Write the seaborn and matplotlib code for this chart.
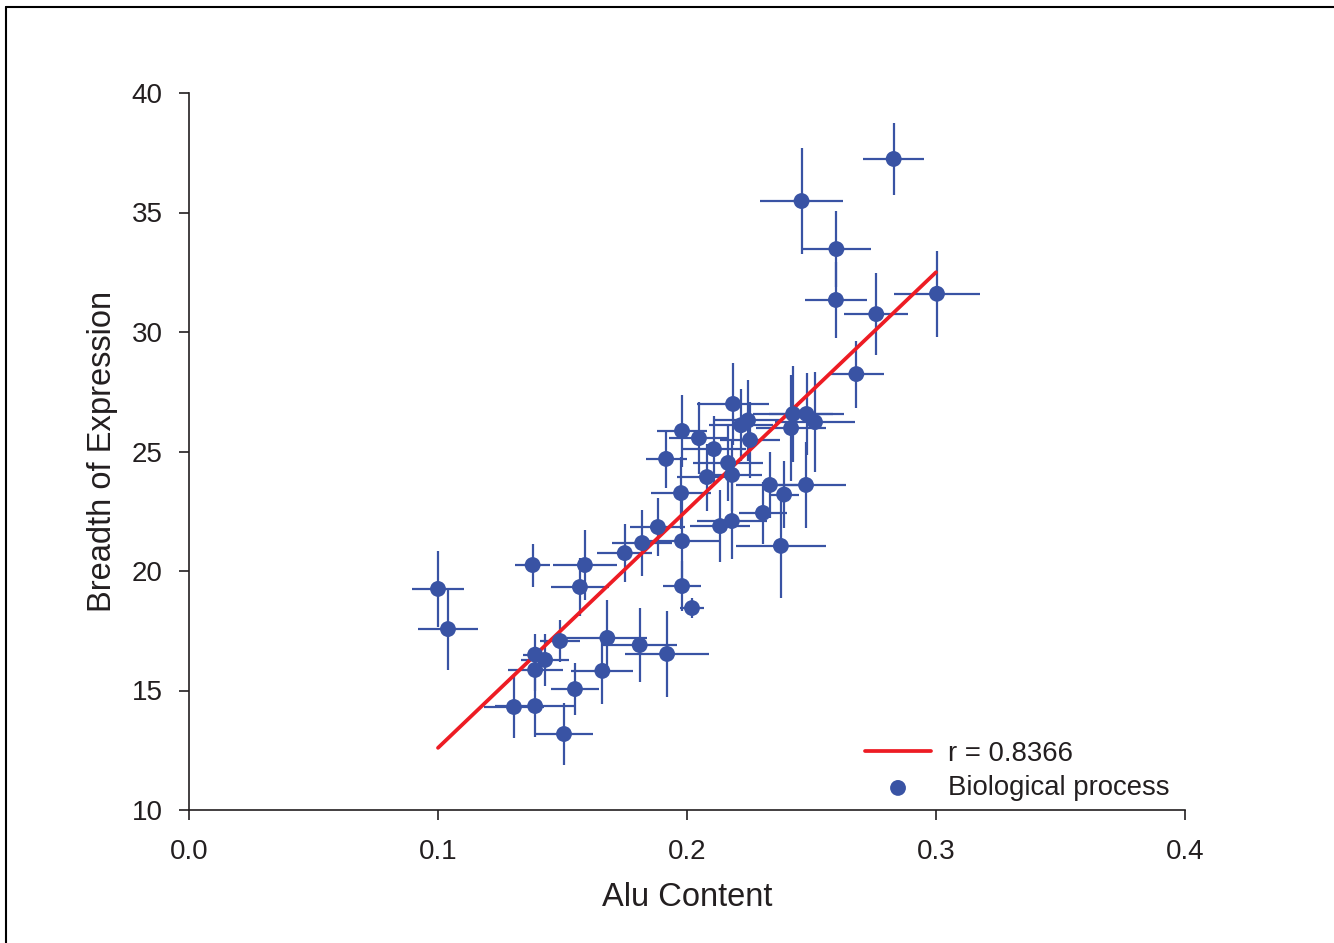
import matplotlib
matplotlib.use("Agg")
import matplotlib.pyplot as plt
from matplotlib.lines import Line2D
import numpy as np
import pandas as pd
import seaborn as sns

# Alu content vs breadth of expression, one point per GO biological process
alu_content = [
    0.100, 0.104, 0.138, 0.159, 0.157, 0.175, 0.182, 0.198, 0.198, 0.202,
    0.139, 0.143, 0.149, 0.139, 0.168, 0.181, 0.192, 0.166, 0.155, 0.1305,
    0.139, 0.1506, 0.283, 0.246, 0.260, 0.2598, 0.276, 0.3004, 0.268, 0.2185,
    0.2245, 0.2217, 0.2426, 0.248, 0.2514, 0.2418, 0.198, 0.2048, 0.2253, 0.2108,
    0.1916, 0.2165, 0.2181, 0.208, 0.2333, 0.2478, 0.239, 0.1976, 0.2305, 0.218,
    0.2133, 0.1883, 0.2377,
]
breadth = [
    19.25, 17.57, 20.25, 20.25, 19.33, 20.75, 21.17, 21.25, 19.37, 18.45,
    16.50, 16.28, 17.07, 15.86, 17.20, 16.90, 16.53, 15.82, 15.06, 14.31,
    14.35, 13.18, 37.24, 35.48, 33.47, 31.34, 30.75, 31.60, 28.24, 26.99,
    26.30, 26.10, 26.57, 26.57, 26.23, 25.98, 25.86, 25.56, 25.48, 25.10,
    24.69, 24.52, 24.02, 23.93, 23.60, 23.60, 23.20, 23.26, 22.43, 22.09,
    21.88, 21.84, 21.05,
]
alu_err = [
    0.0106, 0.012, 0.007, 0.013, 0.0115, 0.011, 0.012, 0.0147, 0.0076, 0.005,
    0.005, 0.0097, 0.008, 0.011, 0.016, 0.015, 0.017, 0.0125, 0.0098, 0.012,
    0.016, 0.0115, 0.0123, 0.0165, 0.014, 0.0124, 0.0128, 0.0173, 0.011, 0.0145,
    0.014, 0.013, 0.016, 0.015, 0.016, 0.014, 0.010, 0.012, 0.012, 0.013,
    0.0082, 0.014, 0.012, 0.012, 0.0135, 0.016, 0.006, 0.012, 0.0095, 0.014,
    0.012, 0.011, 0.018,
]
breadth_err = [
    1.6, 1.7, 0.9, 1.45, 1.2, 1.2, 1.4, 1.8, 1.05, 0.4,
    0.85, 1.1, 0.87, 0.9, 1.6, 1.55, 1.8, 1.4, 1.1, 1.3,
    1.3, 1.3, 1.5, 2.2, 1.6, 1.6, 1.7, 1.8, 1.4, 1.7,
    1.7, 1.5, 2.0, 1.7, 2.1, 2.2, 1.5, 1.5, 1.6, 1.4,
    1.2, 1.6, 1.5, 1.4, 1.4, 1.8, 1.4, 1.5, 1.3, 1.6,
    1.5, 1.2, 2.2,
]

# regression line as drawn in the figure
fit_x = [0.1, 0.3]
fit_y = [12.6, 32.5]
r_label = "r = 0.8366"

x_ticks = [0.0, 0.1, 0.2, 0.3, 0.4]
y_ticks = [10, 15, 20, 25, 30, 35, 40]

blue = "#3953a4"
red = "#ed1c24"
ink = "#231f20"

df = pd.DataFrame({"alu": alu_content, "breadth": breadth,
                   "alu_err": alu_err, "breadth_err": breadth_err})

sns.set_style("ticks")
plt.rcParams["font.family"] = ["Liberation Sans", "DejaVu Sans"]

fig = plt.figure(figsize=(13.34, 9.43), dpi=100)
ax = fig.add_axes([189 / 1334, 1 - 810 / 943, 996 / 1334, 717 / 943])

ax.errorbar(df["alu"], df["breadth"], xerr=df["alu_err"], yerr=df["breadth_err"],
            fmt="none", ecolor=blue, elinewidth=1.6, capsize=0, zorder=2)
sns.lineplot(x=fit_x, y=fit_y, ax=ax, color=red, linewidth=2.7, zorder=3,
             label=r_label)
sns.scatterplot(data=df, x="alu", y="breadth", ax=ax, color=blue, s=130,
                edgecolor="none", zorder=4, label="Biological process")

ax.set_xlim(0, 0.4)
ax.set_ylim(10, 40)
ax.set_xticks(x_ticks)
ax.set_xticklabels([f"{t:.1f}" for t in x_ticks])
ax.set_yticks(y_ticks)
ax.set_xlabel("Alu Content", fontsize=23.5, color=ink, labelpad=12)
ax.set_ylabel("Breadth of Expression", fontsize=23.5, color=ink, labelpad=10)
ax.tick_params(axis="x", pad=14)
ax.tick_params(axis="y", pad=12)
ax.tick_params(axis="both", direction="out", length=7, width=1.2,
               labelsize=20, colors=ink)
sns.despine(ax=ax)
for side in ("left", "bottom"):
    ax.spines[side].set_linewidth(1.2)
    ax.spines[side].set_color(ink)

handles, labels = ax.get_legend_handles_labels()
ax.legend(handles, labels, loc="lower right", bbox_to_anchor=(0.995, -0.003),
          frameon=False, fontsize=19.8, handlelength=2.4, handletextpad=0.6,
          labelspacing=0.3, borderaxespad=0.0, labelcolor=ink)

# outer frame, only the left and top edges are inside the picture
fig.add_artist(Line2D([6 / 1334, 6 / 1334], [0, 1 - 7 / 943],
                      transform=fig.transFigure, color="black", linewidth=1.5))
fig.add_artist(Line2D([6 / 1334, 1], [1 - 7 / 943, 1 - 7 / 943],
                      transform=fig.transFigure, color="black", linewidth=1.5))

fig.savefig("out.png", dpi=100)
plt.close(fig)
